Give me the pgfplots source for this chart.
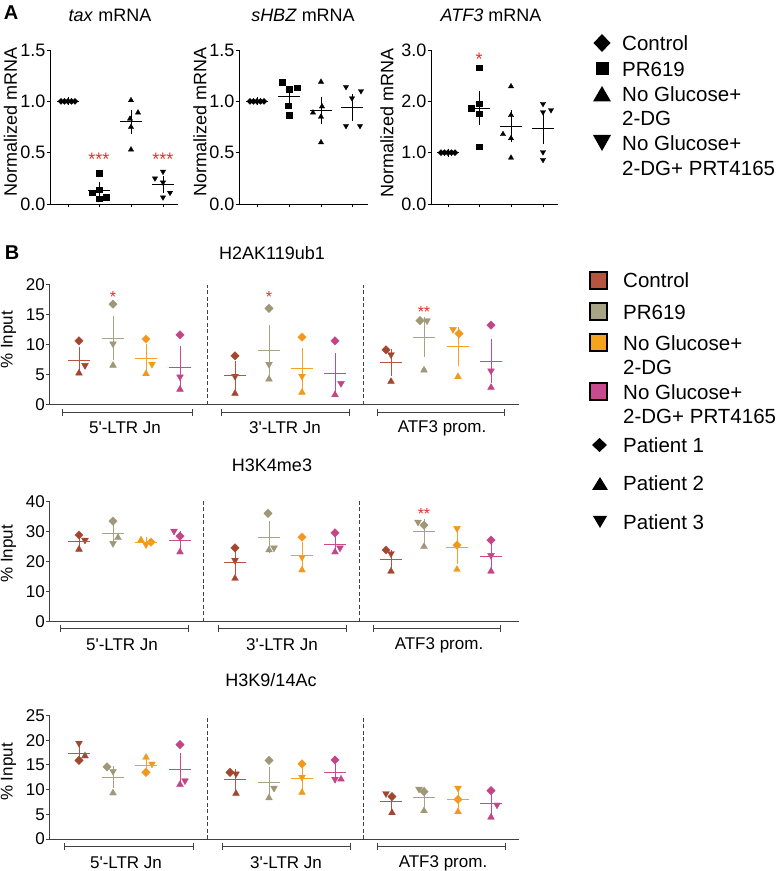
\documentclass[border=0pt]{standalone}
\usepackage{pgfplots}
\pgfplotsset{compat=1.18}
\usepackage{fontspec}
\setmainfont{Liberation Sans}
\definecolor{ctrl}{RGB}{163,70,48}
\definecolor{pr}{RGB}{158,151,120}
\definecolor{ng}{RGB}{243,152,30}
\definecolor{prt}{RGB}{196,68,136}
\definecolor{ctrlS}{RGB}{181,85,62}
\definecolor{prS}{RGB}{169,163,133}
\definecolor{ngS}{RGB}{247,162,30}
\definecolor{prtS}{RGB}{201,74,142}
\definecolor{ast}{RGB}{226,48,48}
\definecolor{axg}{RGB}{64,64,64}
\newcommand\fs[1]{\fontsize{#1}{#1}\selectfont}
\pgfplotsset{
  dia/.style 2 args={only marks, color=#1, mark=square*, mark size=#2, mark options={rotate=45, fill=#1, line width=0.3pt}},
  sq/.style 2 args={only marks, color=#1, mark=square*, mark size=#2, mark options={fill=#1, line width=0.3pt}},
  up/.style 2 args={only marks, color=#1, mark=triangle*, mark size=#2, mark options={fill=#1, line width=0.3pt}},
  dn/.style 2 args={only marks, color=#1, mark=triangle*, mark size=#2, mark options={rotate=180, fill=#1, line width=0.3pt}},
  msem/.style={only marks, color=#1, mark=-, mark size=11pt, mark options={line width=0.9pt},
     error bars/y dir=both, error bars/y explicit,
     error bars/error bar style={line width=0.9pt, color=#1},
     error bars/error mark options={line width=0.9pt, mark size=4pt, color=#1}},
  Aax/.style={anchor=south west, axis lines=left, axis line style={-, line width=0.8pt}, tick align=outside, major tick length=3.5pt, tick style={line width=0.8pt, black}, x=1pt, ymin=0, clip=false, tick label style={font=\fs{18}}, yticklabel style={inner sep=1pt}, xticklabels={}},
  Bax/.style={anchor=south west, axis lines=left, axis line style={-, line width=1pt, axg}, tick align=outside, major tick length=3.5pt, tick style={line width=1pt, axg}, xtick=\empty, x=1pt, xmin=50, xmax=519, ymin=0, clip=false, tick label style={font=\fs{17}}, yticklabel style={inner sep=1.5pt}},
}
\newcommand\brk[3]{%
  \draw[axg, line width=1pt] ([yshift=-#3]axis cs:#1,0) -- ([yshift=-#3]axis cs:#2,0);
  \draw[axg, line width=1pt] ([yshift=-#3+3.5pt]axis cs:#1,0) -- ([yshift=-#3-3.5pt]axis cs:#1,0);
  \draw[axg, line width=1pt] ([yshift=-#3+3.5pt]axis cs:#2,0) -- ([yshift=-#3-3.5pt]axis cs:#2,0);
}
\newcommand\q{\textquotesingle}
\begin{document}
\begin{tikzpicture}[x=1pt,y=1pt]
\useasboundingbox (0,0) rectangle (782,871);
% ================= Panel A =================
\begin{axis}[Aax, at={(50pt,667pt)}, xmin=50, xmax=178, ymax=1.5, y=102.667pt,
  xtick={68,99,131,163}, ytick={0,0.5,1,1.5}, yticklabels={0.0,0.5,1.0,1.5}]
\addplot[dia={black}{2.1pt}] coordinates {(61,1)(64.5,1)(68,1)(71.5,1)(75,1)};
\addplot[sq={black}{2.7pt}] coordinates {(99,0.30)(99,0.14)(92,0.11)(99,0.05)(106,0.065)};
\addplot[up={black}{3.1pt}] coordinates {(131,1.01)(138,0.89)(130,0.83)(131,0.75)(131,0.53)};
\addplot[dn={black}{3.1pt}] coordinates {(163,0.315)(155,0.25)(163,0.21)(170,0.11)(163,0.065)};
\addplot[msem=black] coordinates {(68,1) +- (0,0) (99,0.13) +- (0,0.045) (131,0.80) +- (0,0.08) (163,0.19) +- (0,0.04)};
\node[ast, font=\fs{18}, anchor=base, yshift=-10pt] at (axis cs:99,0.47) {***};
\node[ast, font=\fs{18}, anchor=base, yshift=-10pt] at (axis cs:163,0.47) {***};
\end{axis}
\begin{axis}[Aax, at={(239pt,667pt)}, xmin=239, xmax=368, ymax=1.5, y=102.667pt,
  xtick={257,289,321,352}, ytick={0,0.5,1,1.5}, yticklabels={0.0,0.5,1.0,1.5}]
\addplot[dia={black}{2.1pt}] coordinates {(250,1)(253.5,1)(257,1)(260.5,1)(264,1)};
\addplot[sq={black}{2.7pt}] coordinates {(282,1.185)(297,1.136)(289,1.117)(288,0.955)(289,0.867)};
\addplot[up={black}{3.1pt}] coordinates {(321,1.19)(313,0.89)(322,0.95)(321,0.85)(321,0.60)};
\addplot[dn={black}{3.1pt}] coordinates {(346,1.14)(361,1.10)(352,1.03)(346,0.76)(360,0.76)};
\addplot[msem=black] coordinates {(257,1) +- (0,0) (289,1.05) +- (0,0.055) (321,0.91) +- (0,0.095) (352,0.94) +- (0,0.09)};
\end{axis}
\begin{axis}[Aax, at={(431pt,667pt)}, xmin=431, xmax=558, ymax=3, y=51.333pt,
  xtick={448,479,511,543}, ytick={0,1,2,3}, yticklabels={0.0,1.0,2.0,3.0}]
\addplot[dia={black}{2.1pt}] coordinates {(441,1)(444.5,1)(448,1)(451.5,1)(455,1)};
\addplot[sq={black}{2.7pt}] coordinates {(479,2.66)(479,1.95)(471,1.87)(479,1.76)(479,1.12)};
\addplot[up={black}{3.1pt}] coordinates {(511,2.29)(511,1.73)(503,1.36)(511,1.28)(511,0.90)};
\addplot[dn={black}{3.1pt}] coordinates {(543,1.95)(543,1.79)(551,1.83)(543,1.01)(543,0.86)};
\addplot[msem=black] coordinates {(448,1) +- (0,0) (479,1.87) +- (0,0.245) (511,1.52) +- (0,0.24) (543,1.47) +- (0,0.225)};
\node[ast, font=\fs{18}, anchor=base, yshift=-10pt] at (axis cs:479,2.9) {*};
\end{axis}
\node[rotate=90, font=\fs{18}] at (10.5,749) {Normalized mRNA};
\node[rotate=90, font=\fs{18}] at (200,749) {Normalized mRNA};
\node[rotate=90, font=\fs{18}] at (387,748) {Normalized mRNA};
\node[font=\fs{18}] at (110,856) {\textit{tax} mRNA};
\node[font=\fs{18}] at (303,856) {\textit{sHBZ} mRNA};
\node[font=\fs{18}] at (491,856) {\textit{ATF3} mRNA};
\node[font=\fs{20}\bfseries] at (11,858) {A};
% legend A
\fill (602,837) -- (610.5,828) -- (602,819) -- (593.5,828) -- cycle;
\fill (595.5,795.5) rectangle (608.5,808.5);
\fill (593,769.5) -- (611,769.5) -- (602,785) -- cycle;
\fill (593,736) -- (611,736) -- (602,720) -- cycle;
\node[font=\fs{20.5}, anchor=base west, inner sep=0pt] at (622,820.5) {Control};
\node[font=\fs{20.5}, anchor=base west, inner sep=0pt] at (622,794.5) {PR619};
\node[font=\fs{20.5}, anchor=base west, inner sep=0pt] at (622,769.5) {No Glucose+};
\node[font=\fs{20.5}, anchor=base west, inner sep=0pt] at (622,745.5) {2-DG};
\node[font=\fs{20.5}, anchor=base west, inner sep=0pt] at (622,720.5) {No Glucose+};
\node[font=\fs{20.5}, anchor=base west, inner sep=0pt] at (622,695.5) {2-DG+ PRT4165};
% ================= Panel B =================
\node[font=\fs{20}\bfseries] at (12,618) {B};
% ---- H2AK119ub1
\begin{axis}[Bax, at={(50pt,466pt)}, ymax=20, y=6pt, ytick={0,5,10,15,20}, yticklabels={0,5,10,15,20}]
\draw[axg, line width=1pt, dash pattern=on 4pt off 2.5pt] (axis cs:207,0) -- (axis cs:207,20);
\draw[axg, line width=1pt, dash pattern=on 4pt off 2.5pt] (axis cs:363,0) -- (axis cs:363,20);
\addplot[dia={ctrl}{3pt}] coordinates {(79,10.7)(235,8.2)(386,9.2)};
\addplot[up={ctrl}{4pt}] coordinates {(79,5.3)(235,1.9)(391,3.9)};
\addplot[dn={ctrl}{4pt}] coordinates {(85,6.6)(235,4.8)(391,8.4)};
\addplot[dia={pr}{3pt}] coordinates {(113,16.8)(269,16.1)(420,14.05)};
\addplot[up={pr}{4pt}] coordinates {(113,6.6)(269,4.3)(424,5.8)};
\addplot[dn={pr}{4pt}] coordinates {(113,10.2)(269,6.8)(427,14.05)};
\addplot[dia={ng}{3pt}] coordinates {(146,11.0)(302,11.3)(459,11.9)};
\addplot[up={ng}{4pt}] coordinates {(146,5.2)(302,2.1)(458,4.7)};
\addplot[dn={ng}{4pt}] coordinates {(152,6.8)(302,4.8)(453,12.6)};
\addplot[dia={prt}{3pt}] coordinates {(180,11.7)(335,10.7)(491,13.3)};
\addplot[up={prt}{4pt}] coordinates {(180,2.6)(335,1.7)(491,2.9)};
\addplot[dn={prt}{4pt}] coordinates {(180,4.7)(341,3.6)(491,5.7)};
\addplot[msem=ctrlS] coordinates {(79,7.4) +- (0,1.67) (235,4.9) +- (0,1.75) (391,7.1) +- (0,1.6)};
\addplot[msem=prS] coordinates {(113,11.1) +- (0,3.0) (269,9.05) +- (0,3.6) (424,11.3) +- (0,2.65)};
\addplot[msem=ngS] coordinates {(146,7.8) +- (0,1.75) (302,6.1) +- (0,2.7) (458,9.7) +- (0,2.6)};
\addplot[msem=prtS] coordinates {(180,6.3) +- (0,2.8) (335,5.3) +- (0,2.7) (491,7.3) +- (0,3.05)};
\node[ast, font=\fs{16}, anchor=base, yshift=-9pt] at (axis cs:113,18.6) {*};
\node[ast, font=\fs{16}, anchor=base, yshift=-9pt] at (axis cs:269,18.6) {*};
\node[ast, font=\fs{16}, anchor=base, yshift=-9pt] at (axis cs:424,16.0) {**};
\brk{63}{192}{8pt}
\brk{221}{349}{8pt}
\brk{377}{504}{8pt}
\node[font=\fs{17}] at ([yshift=-23pt]axis cs:125,0) {5\q-LTR Jn};
\node[font=\fs{17}] at ([yshift=-23pt]axis cs:285,0) {3\q-LTR Jn};
\node[font=\fs{17}] at ([yshift=-23pt]axis cs:442,0) {ATF3 prom.};
\end{axis}
\node[rotate=90, font=\fs{17}] at (8.5,531) {\% Input};
\node[font=\fs{18}] at (272,618) {H2AK119ub1};
% ---- H3K4me3
\begin{axis}[Bax, at={(50pt,249pt)}, ymax=40, y=3pt, ytick={0,10,20,30,40}, yticklabels={0,10,20,30,40}]
\draw[axg, line width=1pt, dash pattern=on 4pt off 2.5pt] (axis cs:203,0) -- (axis cs:203,41);
\draw[axg, line width=1pt, dash pattern=on 4pt off 2.5pt] (axis cs:359,0) -- (axis cs:359,41);
\addplot[dia={ctrl}{3pt}] coordinates {(79,29.0)(235,24.7)(386,24.0)};
\addplot[up={ctrl}{4pt}] coordinates {(79,24.2)(235,14.5)(391,16.9)};
\addplot[dn={ctrl}{4pt}] coordinates {(85,27.3)(235,20.6)(391,22.8)};
\addplot[dia={pr}{3pt}] coordinates {(113,33.6)(268,36.2)(424,32.3)};
\addplot[up={pr}{4pt}] coordinates {(118,28.1)(269,24.0)(424,25.1)};
\addplot[dn={pr}{4pt}] coordinates {(113,26.2)(274,24.7)(418,33.3)};
\addplot[dia={ng}{3pt}] coordinates {(151,26.6)(302,28.3)(457,25.6)};
\addplot[up={ng}{4pt}] coordinates {(141,27.3)(302,17.3)(457,17.5)};
\addplot[dn={ng}{4pt}] coordinates {(146,25.8)(302,21.6)(457,31.2)};
\addplot[dia={prt}{3pt}] coordinates {(180,28.6)(335,29.7)(491,27.3)};
\addplot[up={prt}{4pt}] coordinates {(180,23.3)(335,23.3)(491,16.9)};
\addplot[dn={prt}{4pt}] coordinates {(174,30.3)(340,24.7)(491,22.2)};
\addplot[msem=ctrlS] coordinates {(79,26.7) +- (0,1.2) (235,19.7) +- (0,2.65) (391,21.0) +- (0,1.8)};
\addplot[msem=prS] coordinates {(113,29.4) +- (0,2.05) (269,28.3) +- (0,4.05) (424,30.3) +- (0,2.7)};
\addplot[msem=ngS] coordinates {(146,26.4) +- (0,0.55) (302,22.3) +- (0,3.15) (457,24.7) +- (0,3.9)};
\addplot[msem=prtS] coordinates {(180,27.3) +- (0,1.85) (335,25.8) +- (0,1.75) (491,21.9) +- (0,2.85)};
\node[ast, font=\fs{16}, anchor=base, yshift=-9pt] at (axis cs:424,37.3) {**};
\brk{61}{188}{7pt}
\brk{218}{346}{7pt}
\brk{373}{500}{7pt}
\node[font=\fs{17}] at ([yshift=-23pt]axis cs:122,0) {5\q-LTR Jn};
\node[font=\fs{17}] at ([yshift=-23pt]axis cs:282,0) {3\q-LTR Jn};
\node[font=\fs{17}] at ([yshift=-23pt]axis cs:439,0) {ATF3 prom.};
\end{axis}
\node[rotate=90, font=\fs{17}] at (8.5,317) {\% Input};
\node[font=\fs{18}] at (272,406) {H3K4me3};
% ---- H3K9/14Ac
\begin{axis}[Bax, at={(50pt,32pt)}, ymax=25, y=4.94pt, ytick={0,5,10,15,20,25}, yticklabels={0,5,10,15,20,25}]
\draw[axg, line width=1pt, dash pattern=on 4pt off 2.5pt] (axis cs:207,0) -- (axis cs:207,25);
\draw[axg, line width=1pt, dash pattern=on 4pt off 2.5pt] (axis cs:363,0) -- (axis cs:363,25);
\addplot[dia={ctrl}{3pt}] coordinates {(79,15.9)(230,13.5)(392,8.6)};
\addplot[up={ctrl}{4pt}] coordinates {(85,16.8)(236,9.2)(392,5.3)};
\addplot[dn={ctrl}{4pt}] coordinates {(79,19.4)(236,13.2)(386,9.2)};
\addplot[dia={pr}{3pt}] coordinates {(107,14.6)(269,15.9)(424,9.6)};
\addplot[up={pr}{4pt}] coordinates {(113,9.3)(269,8.3)(424,5.7)};
\addplot[dn={pr}{4pt}] coordinates {(113,13.7)(274,10.3)(419,10.1)};
\addplot[dia={ng}{3pt}] coordinates {(146,13.5)(302,15.2)(458,8.0)};
\addplot[up={ng}{4pt}] coordinates {(146,16.5)(302,9.4)(458,5.5)};
\addplot[dn={ng}{4pt}] coordinates {(152,15.2)(302,12.5)(458,10.3)};
\addplot[dia={prt}{3pt}] coordinates {(180,19.1)(335,16.0)(491,9.8)};
\addplot[up={prt}{4pt}] coordinates {(180,11.0)(341,12.1)(491,4.4)};
\addplot[dn={prt}{4pt}] coordinates {(185,11.8)(335,12.1)(497,6.9)};
\addplot[msem=ctrlS] coordinates {(79,17.3) +- (0,0.9) (235,12.0) +- (0,1.35) (391,7.6) +- (0,1.0)};
\addplot[msem=prS] coordinates {(113,12.5) +- (0,1.45) (269,11.5) +- (0,2.25) (424,8.5) +- (0,1.25)};
\addplot[msem=ngS] coordinates {(146,14.9) +- (0,0.75) (302,12.3) +- (0,1.7) (458,8.0) +- (0,1.3)};
\addplot[msem=prtS] coordinates {(180,14.0) +- (0,2.6) (335,13.5) +- (0,1.3) (491,7.1) +- (0,1.45)};
\brk{65}{193}{7pt}
\brk{222}{350}{7pt}
\brk{377}{505}{7pt}
\node[font=\fs{17}] at ([yshift=-24pt]axis cs:126,0) {5\q-LTR Jn};
\node[font=\fs{17}] at ([yshift=-24pt]axis cs:286,0) {3\q-LTR Jn};
\node[font=\fs{17}] at ([yshift=-24pt]axis cs:443,0) {ATF3 prom.};
\end{axis}
\node[rotate=90, font=\fs{17}] at (8.5,99) {\% Input};
\node[font=\fs{18}] at (271,191) {H3K9/14Ac};
% legend B
\filldraw[fill=ctrlS, draw=black, line width=2pt] (590,582) rectangle (607,599);
\filldraw[fill=prS, draw=black, line width=2pt] (590,551) rectangle (607,568);
\filldraw[fill=ngS, draw=black, line width=2pt] (590,520) rectangle (607,537);
\filldraw[fill=prtS, draw=black, line width=2pt] (590,471) rectangle (607,488);
\fill (599.5,433) -- (607,426) -- (599.5,419) -- (592,426) -- cycle;
\fill (592,381) -- (608,381) -- (600,394) -- cycle;
\fill (593,355) -- (607,355) -- (600,343) -- cycle;
\node[font=\fs{20.5}, anchor=base west, inner sep=0pt] at (623,583.5) {Control};
\node[font=\fs{20.5}, anchor=base west, inner sep=0pt] at (623,551.5) {PR619};
\node[font=\fs{20.5}, anchor=base west, inner sep=0pt] at (623,520.5) {No Glucose+};
\node[font=\fs{20.5}, anchor=base west, inner sep=0pt] at (623,496.5) {2-DG};
\node[font=\fs{20.5}, anchor=base west, inner sep=0pt] at (623,471.5) {No Glucose+};
\node[font=\fs{20.5}, anchor=base west, inner sep=0pt] at (623,447.5) {2-DG+ PRT4165};
\node[font=\fs{20.5}, anchor=base west, inner sep=0pt] at (623,418.5) {Patient 1};
\node[font=\fs{20.5}, anchor=base west, inner sep=0pt] at (623,380.5) {Patient 2};
\node[font=\fs{20.5}, anchor=base west, inner sep=0pt] at (623,341.5) {Patient 3};
\end{tikzpicture}
\end{document}
